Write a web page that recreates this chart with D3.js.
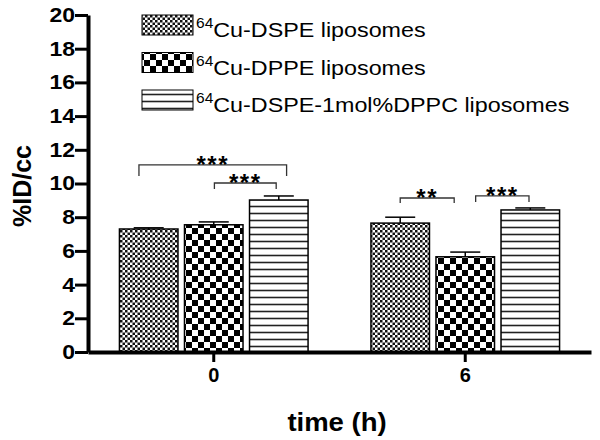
<!DOCTYPE html>
<html>
<head>
<meta charset="utf-8">
<script src="https://cdn.jsdelivr.net/npm/d3@7.9.0/dist/d3.min.js"></script>
<style>
  body { margin: 0; background: #fff; }
  svg { display: block; font-family: 'Liberation Sans', Arial, sans-serif; }
</style>
</head>
<body>
<svg id="chart" width="600" height="440"></svg>
<script>
const times = ['0', '6'];
const seriesNames = ['Cu-DSPE liposomes', 'Cu-DPPE liposomes', 'Cu-DSPE-1mol%DPPC liposomes'];
// means per series, one value per time point
const dspe = [7.3, 7.65];
const dppe = [7.55, 5.65];
const dppc = [9.02, 8.43];
// upper error (SEM)
const dspeErr = [0.07, 0.35];
const dppeErr = [0.17, 0.28];
const dppcErr = [0.24, 0.12];
const yTicks = [0, 2, 4, 6, 8, 10, 12, 14, 16, 18, 20];
// significance brackets: time, from/to in bar units, top and foot in data units
const brackets = [
  { time: '0', from: -0.15, to: 2.12, top: 11.1, foot: 10.45, label: '***' },
  { time: '0', from: 1.01, to: 1.96, top: 10.03, foot: 9.67, label: '***' },
  { time: '6', from: 0, to: 0.83, top: 9.14, foot: 8.84, label: '**' },
  { time: '6', from: 1.16, to: 1.98, top: 9.26, foot: 8.9, label: '***' }
];

const means = [dspe, dppe, dppc];
const errs = [dspeErr, dppeErr, dppcErr];
const patterns = ['fine', 'coarse', 'lines'];

const svg = d3.select('#chart');

// hatch patterns
const defs = svg.append('defs');
let p = defs.append('pattern').attr('id', 'fine').attr('patternUnits', 'userSpaceOnUse')
  .attr('width', 5).attr('height', 5);
p.append('rect').attr('width', 5).attr('height', 5).attr('fill', '#fff');
p.append('rect').attr('width', 2.5).attr('height', 2.5).attr('fill', '#111');
p.append('rect').attr('x', 2.5).attr('y', 2.5).attr('width', 2.5).attr('height', 2.5).attr('fill', '#111');

p = defs.append('pattern').attr('id', 'coarse').attr('patternUnits', 'userSpaceOnUse')
  .attr('width', 12).attr('height', 12);
p.append('rect').attr('width', 12).attr('height', 12).attr('fill', '#fff');
p.append('rect').attr('width', 6).attr('height', 6).attr('fill', '#000');
p.append('rect').attr('x', 6).attr('y', 6).attr('width', 6).attr('height', 6).attr('fill', '#000');

p = defs.append('pattern').attr('id', 'lines').attr('patternUnits', 'userSpaceOnUse')
  .attr('width', 10).attr('height', 7);
p.append('rect').attr('width', 10).attr('height', 7).attr('fill', '#fff');
p.append('line').attr('x1', 0).attr('x2', 10).attr('y1', 3.5).attr('y2', 3.5)
  .attr('stroke', '#222').attr('stroke-width', 1.6);

const y = d3.scaleLinear().domain([0, 20]).range([352, 15]);
const x0 = d3.scaleBand().domain(times).range([88, 591]).paddingInner(0.25).paddingOuter(0.125);
const x1 = d3.scaleBand().domain(d3.range(3)).range([0, x0.bandwidth()]).paddingInner(0.1);
const barUnit = x1.step();
const barCenter = (t, i) => x0(t) + x1(0) + x1.bandwidth() / 2 + i * barUnit;

// bars
means.forEach((vals, s) => {
  svg.append('g').selectAll('rect').data(times).join('rect')
    .attr('x', t => x0(t) + x1(s))
    .attr('y', (t, i) => y(vals[i]))
    .attr('width', x1.bandwidth())
    .attr('height', (t, i) => y(0) - y(vals[i]))
    .attr('fill', `url(#${patterns[s]})`)
    .attr('stroke', '#000').attr('stroke-width', 1.5);

  // upper error bars
  const eg = svg.append('g').attr('stroke', '#000').attr('stroke-width', 1.5);
  times.forEach((t, i) => {
    const cx = barCenter(t, s);
    eg.append('line').attr('x1', cx).attr('x2', cx)
      .attr('y1', y(vals[i])).attr('y2', y(vals[i] + errs[s][i]));
    eg.append('line').attr('x1', cx - 15).attr('x2', cx + 15)
      .attr('y1', y(vals[i] + errs[s][i])).attr('y2', y(vals[i] + errs[s][i]));
  });
});

// significance brackets
const bg = svg.append('g');
brackets.forEach(b => {
  const xa = barCenter(b.time, b.from);
  const xb = barCenter(b.time, b.to);
  bg.append('path')
    .attr('d', `M${xa},${y(b.foot)}V${y(b.top)}H${xb}V${y(b.foot)}`)
    .attr('fill', 'none').attr('stroke', '#333').attr('stroke-width', 1.3);
  bg.append('text')
    .attr('x', (xa + xb) / 2).attr('y', y(b.top) + 8)
    .attr('text-anchor', 'middle')
    .attr('font-size', 24).attr('font-weight', 'bold')
    .attr('letter-spacing', 1.5)
    .text(b.label);
});

// axes
const sx = 1.15;
const yAxis = svg.append('g').attr('transform', 'translate(88,0)')
  .call(d3.axisLeft(y).tickValues(yTicks).tickSize(13).tickSizeOuter(0).tickPadding(0));
yAxis.select('.domain').attr('stroke-width', 4);
yAxis.selectAll('.tick line').attr('stroke-width', 3);
yAxis.selectAll('.tick text').attr('font-size', 20).attr('font-weight', 'bold')
  .attr('font-family', "'Liberation Sans', Arial, sans-serif").attr('fill', '#000')
  .attr('x', -13 / sx).attr('transform', `scale(${sx},1)`);

const xAxis = svg.append('g').attr('transform', 'translate(0,352)')
  .call(d3.axisBottom(x0).tickSize(10).tickSizeOuter(0).tickPadding(6));
xAxis.select('.domain').attr('stroke-width', 4);
xAxis.selectAll('.tick line').attr('stroke-width', 3);
xAxis.selectAll('.tick text').attr('font-size', 20).attr('font-weight', 'bold')
  .attr('font-family', "'Liberation Sans', Arial, sans-serif").attr('fill', '#000');

// axis titles
svg.append('text')
  .attr('transform', 'translate(31,186) rotate(-90)')
  .attr('text-anchor', 'middle')
  .attr('font-size', 25).attr('font-weight', 'bold')
  .text('%ID/cc');

svg.append('text')
  .attr('transform', 'translate(337,431) scale(1.1,1)')
  .attr('text-anchor', 'middle')
  .attr('font-size', 25).attr('font-weight', 'bold')
  .text('time (h)');

// legend
const legend = svg.append('g');
seriesNames.forEach((name, i) => {
  const base = 37 + i * 37.5;
  legend.append('rect')
    .attr('x', 142).attr('y', base - 22).attr('width', 51).attr('height', 20)
    .attr('fill', `url(#${patterns[i]})`).attr('stroke', '#000').attr('stroke-width', 1);
  const t = legend.append('text')
    .attr('transform', `translate(196,${base}) scale(1.11,1)`)
    .attr('font-size', 21);
  t.append('tspan').attr('font-size', 14).attr('dy', -9).text('64');
  t.append('tspan').attr('dy', 9).text(name);
});
</script>
</body>
</html>
